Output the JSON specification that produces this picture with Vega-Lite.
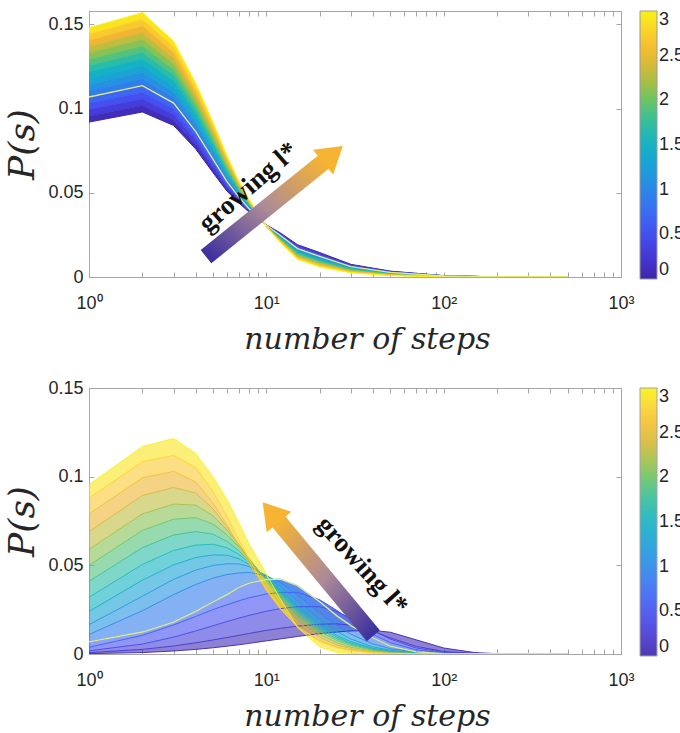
{
  "$schema": "https://vega.github.io/schema/vega-lite/v6.json",
  "background": "white",
  "padding": {"left": 4, "top": 10, "right": 0, "bottom": 0},
  "spacing": 23,
  "config": {
    "view": {"stroke": "#a6a6a6", "strokeWidth": 1},
    "axis": {
      "domainColor": "#a6a6a6", "tickColor": "#a6a6a6", "grid": false,
      "labelFont": "Liberation Sans", "labelFontSize": 18, "labelColor": "#262626",
      "titleFont": "DejaVu Serif", "titleFontStyle": "italic", "titleFontWeight": "normal", "titleColor": "#262626",
      "tickSize": -5, "labelFlush": false, "labelOverlap": false
    },
    "legend": {
      "title": null, "orient": "right", "offset": 18, "padding": 0,
      "gradientLength": 268, "gradientThickness": 17,
      "gradientStrokeColor": "#9a9a9a", "gradientStrokeWidth": 1,
      "labelFont": "Liberation Sans", "labelFontSize": 18, "labelColor": "#262626",
      "labelOffset": 5, "labelBaseline": "middle", "labelOverlap": false
    }
  },
  "resolve": {"scale": {"color": "independent"}},
  "datasets": {
    "top": [
      {"l":0,"s":1,"y":0.092},{"l":0,"s":2,"y":0.098},{"l":0,"s":3,"y":0.09},{"l":0,"s":4,"y":0.076},{"l":0,"s":5,"y":0.062},{"l":0,"s":6,"y":0.051},{"l":0,"s":7,"y":0.044},{"l":0,"s":8,"y":0.0385},{"l":0,"s":10,"y":0.031},{"l":0,"s":12,"y":0.0262},{"l":0,"s":15,"y":0.0192},{"l":0,"s":20,"y":0.0145},{"l":0,"s":30,"y":0.0075},{"l":0,"s":50,"y":0.0035},{"l":0,"s":100,"y":0.0008},{"l":0,"s":200,"y":0.0001},{"l":0,"s":500,"y":0},
      {"l":0.2,"s":1,"y":0.0957},{"l":0.2,"s":2,"y":0.1019},{"l":0.2,"s":3,"y":0.0933},{"l":0.2,"s":4,"y":0.0786},{"l":0.2,"s":5,"y":0.064},{"l":0.2,"s":6,"y":0.0524},{"l":0.2,"s":7,"y":0.0449},{"l":0.2,"s":8,"y":0.039},{"l":0.2,"s":10,"y":0.0309},{"l":0.2,"s":12,"y":0.0258},{"l":0.2,"s":15,"y":0.0186},{"l":0.2,"s":20,"y":0.0139},{"l":0.2,"s":30,"y":0.0072},{"l":0.2,"s":50,"y":0.0033},{"l":0.2,"s":100,"y":0.0008},{"l":0.2,"s":200,"y":0.0001},{"l":0.2,"s":500,"y":0},
      {"l":0.4,"s":1,"y":0.0995},{"l":0.4,"s":2,"y":0.1059},{"l":0.4,"s":3,"y":0.0967},{"l":0.4,"s":4,"y":0.0812},{"l":0.4,"s":5,"y":0.066},{"l":0.4,"s":6,"y":0.0538},{"l":0.4,"s":7,"y":0.0457},{"l":0.4,"s":8,"y":0.0395},{"l":0.4,"s":10,"y":0.0308},{"l":0.4,"s":12,"y":0.0254},{"l":0.4,"s":15,"y":0.018},{"l":0.4,"s":20,"y":0.0134},{"l":0.4,"s":30,"y":0.0068},{"l":0.4,"s":50,"y":0.0031},{"l":0.4,"s":100,"y":0.0007},{"l":0.4,"s":200,"y":0.0001},{"l":0.4,"s":500,"y":0},
      {"l":0.6,"s":1,"y":0.1032},{"l":0.6,"s":2,"y":0.1098},{"l":0.6,"s":3,"y":0.1},{"l":0.6,"s":4,"y":0.0838},{"l":0.6,"s":5,"y":0.068},{"l":0.6,"s":6,"y":0.0552},{"l":0.6,"s":7,"y":0.0466},{"l":0.6,"s":8,"y":0.04},{"l":0.6,"s":10,"y":0.0308},{"l":0.6,"s":12,"y":0.0251},{"l":0.6,"s":15,"y":0.0175},{"l":0.6,"s":20,"y":0.0128},{"l":0.6,"s":30,"y":0.0065},{"l":0.6,"s":50,"y":0.003},{"l":0.6,"s":100,"y":0.0007},{"l":0.6,"s":200,"y":0.0001},{"l":0.6,"s":500,"y":0},
      {"l":0.8,"s":1,"y":0.1069},{"l":0.8,"s":2,"y":0.1137},{"l":0.8,"s":3,"y":0.1033},{"l":0.8,"s":4,"y":0.0864},{"l":0.8,"s":5,"y":0.07},{"l":0.8,"s":6,"y":0.0566},{"l":0.8,"s":7,"y":0.0475},{"l":0.8,"s":8,"y":0.0405},{"l":0.8,"s":10,"y":0.0307},{"l":0.8,"s":12,"y":0.0247},{"l":0.8,"s":15,"y":0.0169},{"l":0.8,"s":20,"y":0.0122},{"l":0.8,"s":30,"y":0.0062},{"l":0.8,"s":50,"y":0.0028},{"l":0.8,"s":100,"y":0.0006},{"l":0.8,"s":200,"y":0.0001},{"l":0.8,"s":500,"y":0},
      {"l":1,"s":1,"y":0.1107},{"l":1,"s":2,"y":0.1177},{"l":1,"s":3,"y":0.1067},{"l":1,"s":4,"y":0.089},{"l":1,"s":5,"y":0.072},{"l":1,"s":6,"y":0.058},{"l":1,"s":7,"y":0.0483},{"l":1,"s":8,"y":0.041},{"l":1,"s":10,"y":0.0306},{"l":1,"s":12,"y":0.0243},{"l":1,"s":15,"y":0.0163},{"l":1,"s":20,"y":0.0117},{"l":1,"s":30,"y":0.0058},{"l":1,"s":50,"y":0.0026},{"l":1,"s":100,"y":0.0006},{"l":1,"s":200,"y":0.0001},{"l":1,"s":500,"y":0},
      {"l":1.2,"s":1,"y":0.1144},{"l":1.2,"s":2,"y":0.1216},{"l":1.2,"s":3,"y":0.11},{"l":1.2,"s":4,"y":0.0916},{"l":1.2,"s":5,"y":0.074},{"l":1.2,"s":6,"y":0.0594},{"l":1.2,"s":7,"y":0.0492},{"l":1.2,"s":8,"y":0.0415},{"l":1.2,"s":10,"y":0.0305},{"l":1.2,"s":12,"y":0.0239},{"l":1.2,"s":15,"y":0.0157},{"l":1.2,"s":20,"y":0.0111},{"l":1.2,"s":30,"y":0.0055},{"l":1.2,"s":50,"y":0.0024},{"l":1.2,"s":100,"y":0.0005},{"l":1.2,"s":200,"y":0.0001},{"l":1.2,"s":500,"y":0},
      {"l":1.4,"s":1,"y":0.1181},{"l":1.4,"s":2,"y":0.1255},{"l":1.4,"s":3,"y":0.1133},{"l":1.4,"s":4,"y":0.0942},{"l":1.4,"s":5,"y":0.076},{"l":1.4,"s":6,"y":0.0608},{"l":1.4,"s":7,"y":0.0501},{"l":1.4,"s":8,"y":0.042},{"l":1.4,"s":10,"y":0.0304},{"l":1.4,"s":12,"y":0.0235},{"l":1.4,"s":15,"y":0.0151},{"l":1.4,"s":20,"y":0.0105},{"l":1.4,"s":30,"y":0.0052},{"l":1.4,"s":50,"y":0.0022},{"l":1.4,"s":100,"y":0.0005},{"l":1.4,"s":200,"y":0.0001},{"l":1.4,"s":500,"y":0},
      {"l":1.6,"s":1,"y":0.1219},{"l":1.6,"s":2,"y":0.1295},{"l":1.6,"s":3,"y":0.1167},{"l":1.6,"s":4,"y":0.0968},{"l":1.6,"s":5,"y":0.078},{"l":1.6,"s":6,"y":0.0622},{"l":1.6,"s":7,"y":0.0509},{"l":1.6,"s":8,"y":0.0425},{"l":1.6,"s":10,"y":0.0303},{"l":1.6,"s":12,"y":0.0232},{"l":1.6,"s":15,"y":0.0145},{"l":1.6,"s":20,"y":0.01},{"l":1.6,"s":30,"y":0.0048},{"l":1.6,"s":50,"y":0.0021},{"l":1.6,"s":100,"y":0.0004},{"l":1.6,"s":200,"y":0},{"l":1.6,"s":500,"y":0},
      {"l":1.8,"s":1,"y":0.1256},{"l":1.8,"s":2,"y":0.1334},{"l":1.8,"s":3,"y":0.12},{"l":1.8,"s":4,"y":0.0994},{"l":1.8,"s":5,"y":0.08},{"l":1.8,"s":6,"y":0.0636},{"l":1.8,"s":7,"y":0.0518},{"l":1.8,"s":8,"y":0.043},{"l":1.8,"s":10,"y":0.0302},{"l":1.8,"s":12,"y":0.0228},{"l":1.8,"s":15,"y":0.014},{"l":1.8,"s":20,"y":0.0094},{"l":1.8,"s":30,"y":0.0045},{"l":1.8,"s":50,"y":0.0019},{"l":1.8,"s":100,"y":0.0004},{"l":1.8,"s":200,"y":0},{"l":1.8,"s":500,"y":0},
      {"l":2,"s":1,"y":0.1293},{"l":2,"s":2,"y":0.1373},{"l":2,"s":3,"y":0.1233},{"l":2,"s":4,"y":0.102},{"l":2,"s":5,"y":0.082},{"l":2,"s":6,"y":0.065},{"l":2,"s":7,"y":0.0527},{"l":2,"s":8,"y":0.0435},{"l":2,"s":10,"y":0.0302},{"l":2,"s":12,"y":0.0224},{"l":2,"s":15,"y":0.0134},{"l":2,"s":20,"y":0.0088},{"l":2,"s":30,"y":0.0042},{"l":2,"s":50,"y":0.0017},{"l":2,"s":100,"y":0.0003},{"l":2,"s":200,"y":0},{"l":2,"s":500,"y":0},
      {"l":2.2,"s":1,"y":0.1331},{"l":2.2,"s":2,"y":0.1413},{"l":2.2,"s":3,"y":0.1267},{"l":2.2,"s":4,"y":0.1046},{"l":2.2,"s":5,"y":0.084},{"l":2.2,"s":6,"y":0.0664},{"l":2.2,"s":7,"y":0.0535},{"l":2.2,"s":8,"y":0.044},{"l":2.2,"s":10,"y":0.0301},{"l":2.2,"s":12,"y":0.022},{"l":2.2,"s":15,"y":0.0128},{"l":2.2,"s":20,"y":0.0083},{"l":2.2,"s":30,"y":0.0038},{"l":2.2,"s":50,"y":0.0015},{"l":2.2,"s":100,"y":0.0003},{"l":2.2,"s":200,"y":0},{"l":2.2,"s":500,"y":0},
      {"l":2.4,"s":1,"y":0.1368},{"l":2.4,"s":2,"y":0.1452},{"l":2.4,"s":3,"y":0.13},{"l":2.4,"s":4,"y":0.1072},{"l":2.4,"s":5,"y":0.086},{"l":2.4,"s":6,"y":0.0678},{"l":2.4,"s":7,"y":0.0544},{"l":2.4,"s":8,"y":0.0445},{"l":2.4,"s":10,"y":0.03},{"l":2.4,"s":12,"y":0.0216},{"l":2.4,"s":15,"y":0.0122},{"l":2.4,"s":20,"y":0.0077},{"l":2.4,"s":30,"y":0.0035},{"l":2.4,"s":50,"y":0.0013},{"l":2.4,"s":100,"y":0.0002},{"l":2.4,"s":200,"y":0},{"l":2.4,"s":500,"y":0},
      {"l":2.6,"s":1,"y":0.1405},{"l":2.6,"s":2,"y":0.1491},{"l":2.6,"s":3,"y":0.1333},{"l":2.6,"s":4,"y":0.1098},{"l":2.6,"s":5,"y":0.088},{"l":2.6,"s":6,"y":0.0692},{"l":2.6,"s":7,"y":0.0553},{"l":2.6,"s":8,"y":0.045},{"l":2.6,"s":10,"y":0.0299},{"l":2.6,"s":12,"y":0.0213},{"l":2.6,"s":15,"y":0.0116},{"l":2.6,"s":20,"y":0.0071},{"l":2.6,"s":30,"y":0.0032},{"l":2.6,"s":50,"y":0.0012},{"l":2.6,"s":100,"y":0.0002},{"l":2.6,"s":200,"y":0},{"l":2.6,"s":500,"y":0},
      {"l":2.8,"s":1,"y":0.1443},{"l":2.8,"s":2,"y":0.1531},{"l":2.8,"s":3,"y":0.1367},{"l":2.8,"s":4,"y":0.1124},{"l":2.8,"s":5,"y":0.09},{"l":2.8,"s":6,"y":0.0706},{"l":2.8,"s":7,"y":0.0561},{"l":2.8,"s":8,"y":0.0455},{"l":2.8,"s":10,"y":0.0299},{"l":2.8,"s":12,"y":0.0209},{"l":2.8,"s":15,"y":0.0111},{"l":2.8,"s":20,"y":0.0066},{"l":2.8,"s":30,"y":0.0028},{"l":2.8,"s":50,"y":0.001},{"l":2.8,"s":100,"y":0.0001},{"l":2.8,"s":200,"y":0},{"l":2.8,"s":500,"y":0},
      {"l":3,"s":1,"y":0.148},{"l":3,"s":2,"y":0.157},{"l":3,"s":3,"y":0.14},{"l":3,"s":4,"y":0.115},{"l":3,"s":5,"y":0.092},{"l":3,"s":6,"y":0.072},{"l":3,"s":7,"y":0.057},{"l":3,"s":8,"y":0.046},{"l":3,"s":10,"y":0.0298},{"l":3,"s":12,"y":0.0205},{"l":3,"s":15,"y":0.0105},{"l":3,"s":20,"y":0.006},{"l":3,"s":30,"y":0.0025},{"l":3,"s":50,"y":0.0008},{"l":3,"s":100,"y":0.0001},{"l":3,"s":200,"y":0},{"l":3,"s":500,"y":0}
    ],
    "bot": [
      {"l":0,"s":1,"y":0.0002},{"l":0,"s":2,"y":0.0008},{"l":0,"s":3,"y":0.0017},{"l":0,"s":4,"y":0.0026},{"l":0,"s":5,"y":0.0035},{"l":0,"s":6,"y":0.0044},{"l":0,"s":7,"y":0.0052},{"l":0,"s":8,"y":0.006},{"l":0,"s":10,"y":0.0074},{"l":0,"s":12,"y":0.0085},{"l":0,"s":15,"y":0.0099},{"l":0,"s":20,"y":0.0115},{"l":0,"s":25,"y":0.0124},{"l":0,"s":30,"y":0.013},{"l":0,"s":40,"y":0.0133},{"l":0,"s":50,"y":0.0123},{"l":0,"s":70,"y":0.008},{"l":0,"s":100,"y":0.0034},{"l":0,"s":150,"y":0.0008},{"l":0,"s":200,"y":0.0002},{"l":0,"s":500,"y":0},
      {"l":0.2,"s":1,"y":0.0008},{"l":0.2,"s":2,"y":0.0026},{"l":0.2,"s":3,"y":0.0045},{"l":0.2,"s":4,"y":0.0063},{"l":0.2,"s":5,"y":0.0079},{"l":0.2,"s":6,"y":0.0093},{"l":0.2,"s":7,"y":0.0105},{"l":0.2,"s":8,"y":0.0116},{"l":0.2,"s":10,"y":0.0133},{"l":0.2,"s":12,"y":0.0145},{"l":0.2,"s":15,"y":0.0157},{"l":0.2,"s":20,"y":0.0168},{"l":0.2,"s":25,"y":0.017},{"l":0.2,"s":30,"y":0.0163},{"l":0.2,"s":40,"y":0.0128},{"l":0.2,"s":50,"y":0.0091},{"l":0.2,"s":70,"y":0.0043},{"l":0.2,"s":100,"y":0.0014},{"l":0.2,"s":150,"y":0.0003},{"l":0.2,"s":200,"y":0.0001},{"l":0.2,"s":500,"y":0},
      {"l":0.4,"s":1,"y":0.0018},{"l":0.4,"s":2,"y":0.0056},{"l":0.4,"s":3,"y":0.0095},{"l":0.4,"s":4,"y":0.013},{"l":0.4,"s":5,"y":0.0159},{"l":0.4,"s":6,"y":0.0183},{"l":0.4,"s":7,"y":0.0202},{"l":0.4,"s":8,"y":0.0218},{"l":0.4,"s":10,"y":0.0241},{"l":0.4,"s":12,"y":0.0256},{"l":0.4,"s":15,"y":0.0267},{"l":0.4,"s":20,"y":0.0267},{"l":0.4,"s":25,"y":0.0239},{"l":0.4,"s":30,"y":0.0201},{"l":0.4,"s":40,"y":0.0132},{"l":0.4,"s":50,"y":0.0084},{"l":0.4,"s":70,"y":0.0034},{"l":0.4,"s":100,"y":0.001},{"l":0.4,"s":150,"y":0.0002},{"l":0.4,"s":200,"y":0},{"l":0.4,"s":500,"y":0},
      {"l":0.6,"s":1,"y":0.0038},{"l":0.6,"s":2,"y":0.0105},{"l":0.6,"s":3,"y":0.0164},{"l":0.6,"s":4,"y":0.0212},{"l":0.6,"s":5,"y":0.025},{"l":0.6,"s":6,"y":0.0278},{"l":0.6,"s":7,"y":0.03},{"l":0.6,"s":8,"y":0.0317},{"l":0.6,"s":10,"y":0.0338},{"l":0.6,"s":12,"y":0.0347},{"l":0.6,"s":15,"y":0.0348},{"l":0.6,"s":20,"y":0.0306},{"l":0.6,"s":25,"y":0.0246},{"l":0.6,"s":30,"y":0.019},{"l":0.6,"s":40,"y":0.011},{"l":0.6,"s":50,"y":0.0064},{"l":0.6,"s":70,"y":0.0023},{"l":0.6,"s":100,"y":0.0006},{"l":0.6,"s":150,"y":0.0001},{"l":0.6,"s":200,"y":0},{"l":0.6,"s":500,"y":0},
      {"l":0.8,"s":1,"y":0.0068},{"l":0.8,"s":2,"y":0.0124},{"l":0.8,"s":3,"y":0.018},{"l":0.8,"s":4,"y":0.024},{"l":0.8,"s":5,"y":0.0293},{"l":0.8,"s":6,"y":0.0335},{"l":0.8,"s":7,"y":0.0375},{"l":0.8,"s":8,"y":0.04},{"l":0.8,"s":10,"y":0.042},{"l":0.8,"s":12,"y":0.0422},{"l":0.8,"s":15,"y":0.0385},{"l":0.8,"s":20,"y":0.0295},{"l":0.8,"s":25,"y":0.0215},{"l":0.8,"s":30,"y":0.016},{"l":0.8,"s":40,"y":0.009},{"l":0.8,"s":50,"y":0.0045},{"l":0.8,"s":70,"y":0.0012},{"l":0.8,"s":100,"y":0.0002},{"l":0.8,"s":150,"y":0},{"l":0.8,"s":200,"y":0},{"l":0.8,"s":500,"y":0},
      {"l":1,"s":1,"y":0.011},{"l":1,"s":2,"y":0.0244},{"l":1,"s":3,"y":0.0335},{"l":1,"s":4,"y":0.0392},{"l":1,"s":5,"y":0.0428},{"l":1,"s":6,"y":0.0448},{"l":1,"s":7,"y":0.0457},{"l":1,"s":8,"y":0.046},{"l":1,"s":10,"y":0.0442},{"l":1,"s":12,"y":0.0402},{"l":1,"s":15,"y":0.0333},{"l":1,"s":20,"y":0.0232},{"l":1,"s":25,"y":0.0159},{"l":1,"s":30,"y":0.0111},{"l":1,"s":40,"y":0.0056},{"l":1,"s":50,"y":0.003},{"l":1,"s":70,"y":0.001},{"l":1,"s":100,"y":0.0003},{"l":1,"s":150,"y":0},{"l":1,"s":200,"y":0},{"l":1,"s":500,"y":0},
      {"l":1.2,"s":1,"y":0.0165},{"l":1.2,"s":2,"y":0.0326},{"l":1.2,"s":3,"y":0.0421},{"l":1.2,"s":4,"y":0.0473},{"l":1.2,"s":5,"y":0.0499},{"l":1.2,"s":6,"y":0.0509},{"l":1.2,"s":7,"y":0.0508},{"l":1.2,"s":8,"y":0.0493},{"l":1.2,"s":10,"y":0.0442},{"l":1.2,"s":12,"y":0.0382},{"l":1.2,"s":15,"y":0.0298},{"l":1.2,"s":20,"y":0.0193},{"l":1.2,"s":25,"y":0.0126},{"l":1.2,"s":30,"y":0.0084},{"l":1.2,"s":40,"y":0.004},{"l":1.2,"s":50,"y":0.0021},{"l":1.2,"s":70,"y":0.0007},{"l":1.2,"s":100,"y":0.0002},{"l":1.2,"s":150,"y":0},{"l":1.2,"s":200,"y":0},{"l":1.2,"s":500,"y":0},
      {"l":1.4,"s":1,"y":0.024},{"l":1.4,"s":2,"y":0.0416},{"l":1.4,"s":3,"y":0.0503},{"l":1.4,"s":4,"y":0.0544},{"l":1.4,"s":5,"y":0.0559},{"l":1.4,"s":6,"y":0.0557},{"l":1.4,"s":7,"y":0.0537},{"l":1.4,"s":8,"y":0.0505},{"l":1.4,"s":10,"y":0.0431},{"l":1.4,"s":12,"y":0.0359},{"l":1.4,"s":15,"y":0.0269},{"l":1.4,"s":20,"y":0.0166},{"l":1.4,"s":25,"y":0.0105},{"l":1.4,"s":30,"y":0.0069},{"l":1.4,"s":40,"y":0.0032},{"l":1.4,"s":50,"y":0.0016},{"l":1.4,"s":70,"y":0.0005},{"l":1.4,"s":100,"y":0.0001},{"l":1.4,"s":150,"y":0},{"l":1.4,"s":200,"y":0},{"l":1.4,"s":500,"y":0},
      {"l":1.6,"s":1,"y":0.032},{"l":1.6,"s":2,"y":0.0505},{"l":1.6,"s":3,"y":0.0584},{"l":1.6,"s":4,"y":0.0614},{"l":1.6,"s":5,"y":0.0619},{"l":1.6,"s":6,"y":0.0599},{"l":1.6,"s":7,"y":0.0562},{"l":1.6,"s":8,"y":0.0518},{"l":1.6,"s":10,"y":0.0428},{"l":1.6,"s":12,"y":0.0348},{"l":1.6,"s":15,"y":0.0253},{"l":1.6,"s":20,"y":0.0152},{"l":1.6,"s":25,"y":0.0095},{"l":1.6,"s":30,"y":0.0061},{"l":1.6,"s":40,"y":0.0028},{"l":1.6,"s":50,"y":0.0014},{"l":1.6,"s":70,"y":0.0004},{"l":1.6,"s":100,"y":0.0001},{"l":1.6,"s":150,"y":0},{"l":1.6,"s":200,"y":0},{"l":1.6,"s":500,"y":0},
      {"l":1.8,"s":1,"y":0.041},{"l":1.8,"s":2,"y":0.06},{"l":1.8,"s":3,"y":0.0671},{"l":1.8,"s":4,"y":0.069},{"l":1.8,"s":5,"y":0.0676},{"l":1.8,"s":6,"y":0.0635},{"l":1.8,"s":7,"y":0.0582},{"l":1.8,"s":8,"y":0.0526},{"l":1.8,"s":10,"y":0.0422},{"l":1.8,"s":12,"y":0.0336},{"l":1.8,"s":15,"y":0.0239},{"l":1.8,"s":20,"y":0.014},{"l":1.8,"s":25,"y":0.0086},{"l":1.8,"s":30,"y":0.0055},{"l":1.8,"s":40,"y":0.0025},{"l":1.8,"s":50,"y":0.0013},{"l":1.8,"s":70,"y":0.0004},{"l":1.8,"s":100,"y":0.0001},{"l":1.8,"s":150,"y":0},{"l":1.8,"s":200,"y":0},{"l":1.8,"s":500,"y":0},
      {"l":2,"s":1,"y":0.05},{"l":2,"s":2,"y":0.0697},{"l":2,"s":3,"y":0.076},{"l":2,"s":4,"y":0.0769},{"l":2,"s":5,"y":0.0733},{"l":2,"s":6,"y":0.0672},{"l":2,"s":7,"y":0.0604},{"l":2,"s":8,"y":0.0537},{"l":2,"s":10,"y":0.0418},{"l":2,"s":12,"y":0.0325},{"l":2,"s":15,"y":0.0225},{"l":2,"s":20,"y":0.0127},{"l":2,"s":25,"y":0.0076},{"l":2,"s":30,"y":0.0048},{"l":2,"s":40,"y":0.0021},{"l":2,"s":50,"y":0.001},{"l":2,"s":70,"y":0.0003},{"l":2,"s":100,"y":0.0001},{"l":2,"s":150,"y":0},{"l":2,"s":200,"y":0},{"l":2,"s":500,"y":0},
      {"l":2.2,"s":1,"y":0.059},{"l":2.2,"s":2,"y":0.079},{"l":2.2,"s":3,"y":0.0845},{"l":2.2,"s":4,"y":0.084},{"l":2.2,"s":5,"y":0.078},{"l":2.2,"s":6,"y":0.0699},{"l":2.2,"s":7,"y":0.0616},{"l":2.2,"s":8,"y":0.0537},{"l":2.2,"s":10,"y":0.0406},{"l":2.2,"s":12,"y":0.0307},{"l":2.2,"s":15,"y":0.0205},{"l":2.2,"s":20,"y":0.0111},{"l":2.2,"s":25,"y":0.0063},{"l":2.2,"s":30,"y":0.0038},{"l":2.2,"s":40,"y":0.0016},{"l":2.2,"s":50,"y":0.0007},{"l":2.2,"s":70,"y":0.0002},{"l":2.2,"s":100,"y":0},{"l":2.2,"s":150,"y":0},{"l":2.2,"s":200,"y":0},{"l":2.2,"s":500,"y":0},
      {"l":2.4,"s":1,"y":0.069},{"l":2.4,"s":2,"y":0.0894},{"l":2.4,"s":3,"y":0.0939},{"l":2.4,"s":4,"y":0.0908},{"l":2.4,"s":5,"y":0.0819},{"l":2.4,"s":6,"y":0.0716},{"l":2.4,"s":7,"y":0.0617},{"l":2.4,"s":8,"y":0.0527},{"l":2.4,"s":10,"y":0.0384},{"l":2.4,"s":12,"y":0.0282},{"l":2.4,"s":15,"y":0.0182},{"l":2.4,"s":20,"y":0.0093},{"l":2.4,"s":25,"y":0.0051},{"l":2.4,"s":30,"y":0.003},{"l":2.4,"s":40,"y":0.0012},{"l":2.4,"s":50,"y":0.0005},{"l":2.4,"s":70,"y":0.0001},{"l":2.4,"s":100,"y":0},{"l":2.4,"s":150,"y":0},{"l":2.4,"s":200,"y":0},{"l":2.4,"s":500,"y":0},
      {"l":2.6,"s":1,"y":0.079},{"l":2.6,"s":2,"y":0.0993},{"l":2.6,"s":3,"y":0.103},{"l":2.6,"s":4,"y":0.097},{"l":2.6,"s":5,"y":0.0852},{"l":2.6,"s":6,"y":0.0726},{"l":2.6,"s":7,"y":0.0611},{"l":2.6,"s":8,"y":0.0511},{"l":2.6,"s":10,"y":0.0358},{"l":2.6,"s":12,"y":0.0254},{"l":2.6,"s":15,"y":0.0156},{"l":2.6,"s":20,"y":0.0075},{"l":2.6,"s":25,"y":0.0039},{"l":2.6,"s":30,"y":0.0022},{"l":2.6,"s":40,"y":0.0008},{"l":2.6,"s":50,"y":0.0003},{"l":2.6,"s":70,"y":0.0001},{"l":2.6,"s":100,"y":0},{"l":2.6,"s":150,"y":0},{"l":2.6,"s":200,"y":0},{"l":2.6,"s":500,"y":0},
      {"l":2.8,"s":1,"y":0.088},{"l":2.8,"s":2,"y":0.1084},{"l":2.8,"s":3,"y":0.112},{"l":2.8,"s":4,"y":0.1051},{"l":2.8,"s":5,"y":0.0916},{"l":2.8,"s":6,"y":0.0774},{"l":2.8,"s":7,"y":0.0644},{"l":2.8,"s":8,"y":0.0534},{"l":2.8,"s":10,"y":0.0367},{"l":2.8,"s":12,"y":0.0255},{"l":2.8,"s":15,"y":0.0152},{"l":2.8,"s":20,"y":0.007},{"l":2.8,"s":25,"y":0.0035},{"l":2.8,"s":30,"y":0.0019},{"l":2.8,"s":40,"y":0.0006},{"l":2.8,"s":50,"y":0.0003},{"l":2.8,"s":70,"y":0},{"l":2.8,"s":100,"y":0},{"l":2.8,"s":150,"y":0},{"l":2.8,"s":200,"y":0},{"l":2.8,"s":500,"y":0},
      {"l":3,"s":1,"y":0.0955},{"l":3,"s":2,"y":0.117},{"l":3,"s":3,"y":0.1215},{"l":3,"s":4,"y":0.113},{"l":3,"s":5,"y":0.1},{"l":3,"s":6,"y":0.087},{"l":3,"s":7,"y":0.074},{"l":3,"s":8,"y":0.062},{"l":3,"s":10,"y":0.045},{"l":3,"s":12,"y":0.031},{"l":3,"s":15,"y":0.015},{"l":3,"s":20,"y":0.004},{"l":3,"s":25,"y":0.001},{"l":3,"s":30,"y":0.0003},{"l":3,"s":40,"y":0.0001},{"l":3,"s":50,"y":0},{"l":3,"s":70,"y":0},{"l":3,"s":100,"y":0},{"l":3,"s":150,"y":0},{"l":3,"s":200,"y":0},{"l":3,"s":500,"y":0}
    ]
  },
  "vconcat": [
    {
      "width": 532, "height": 266,
      "data": {"name": "top"},
      "resolve": {"scale": {"color": "independent"}, "axis": {"x": "independent", "y": "independent"}},
      "layer": [
        {
          "transform": [
            {"window": [{"op": "lead", "field": "y", "as": "y2"}], "groupby": ["s"], "sort": [{"field": "l", "order": "ascending"}]},
            {"filter": "datum.y2 != null"}
          ],
          "mark": {"type": "area", "clip": true, "opacity": 1},
          "encoding": {
            "x": {"field": "s", "type": "quantitative", "scale": {"type": "log", "domain": [1, 1000], "nice": false},
                  "axis": {"orient": "bottom", "values": [1,2,3,4,5,6,7,8,9,10,20,30,40,50,60,70,80,90,100,200,300,400,500,600,700,800,900,1000],
                           "labelExpr": "datum.value === 1 ? '10⁰' : datum.value === 10 ? '10¹' : datum.value === 100 ? '10²' : datum.value === 1000 ? '10³' : ''",
                           "labelPadding": 22, "title": "number of steps", "titleFontSize": 30, "titlePadding": 12, "titleX": 278}},
            "y": {"field": "y", "type": "quantitative", "stack": null, "scale": {"domain": [0, 0.158], "nice": false, "zero": false},
                  "axis": {"orient": "left", "values": [0, 0.05, 0.1, 0.15], "format": ".2~g", "labelPadding": 11, "title": "P(s)", "titleFontSize": 36, "titlePadding": 6}},
            "y2": {"field": "y2"},
            "detail": {"field": "l", "type": "nominal"},
            "color": {"field": "l", "type": "quantitative", "legend": null,
                      "scale": {"domain": [-0.1, 2.9], "interpolate": "rgb", "range": ["#3e26a8","#4538d6","#4450f0","#3a6cf5","#2a88e6","#1aa0d8","#13b3c3","#30bea0","#6cc463","#b2bf3f","#efb533","#fcce2e","#f8f313"]}}
          }
        },
        {
          "mark": {"type": "line", "clip": true, "strokeWidth": 1},
          "encoding": {
            "x": {"field": "s", "type": "quantitative", "axis": {"orient": "top", "values": [1,2,3,4,5,6,7,8,9,10,20,30,40,50,60,70,80,90,100,200,300,400,500,600,700,800,900,1000], "labels": false, "title": null}},
            "y": {"field": "y", "type": "quantitative", "axis": {"orient": "right", "values": [0, 0.05, 0.1, 0.15], "labels": false, "title": null}},
            "detail": {"field": "l", "type": "nominal"},
            "color": {"field": "l", "type": "quantitative",
                      "scale": {"domain": [0, 3], "interpolate": "rgb", "range": ["#3e26a8","#4538d6","#4450f0","#3a6cf5","#2a88e6","#1aa0d8","#13b3c3","#30bea0","#6cc463","#b2bf3f","#efb533","#fcce2e","#f8f313"]},
                      "legend": {"values": [0, 0.5, 1, 1.5, 2, 2.5, 3], "format": ".2~g"}}
          }
        },
        {
          "transform": [{"filter": "datum.l == 0.8"}],
          "mark": {"type": "line", "clip": true, "strokeWidth": 1.3, "color": "#e2ec84"},
          "encoding": {
            "x": {"field": "s", "type": "quantitative", "axis": null},
            "y": {"field": "y", "type": "quantitative", "axis": null}
          }
        },
        {
          "data": {"values": [{"s": 4.57, "y": 0.0121}, {"s": 21.4, "y": 0.069}]},
          "mark": {"type": "line", "strokeWidth": 17, "strokeCap": "butt",
                   "stroke": {"gradient": "linear", "x1": 0, "y1": 1, "x2": 1, "y2": 0,
                              "stops": [{"offset": 0, "color": "#3a2e9f"}, {"offset": 0.5, "color": "#ac8a98"}, {"offset": 1, "color": "#f6b432"}]}},
          "encoding": {
            "x": {"field": "s", "type": "quantitative", "axis": null},
            "y": {"field": "y", "type": "quantitative", "axis": null}
          }
        },
        {
          "data": {"values": [{"s": 23.0, "y": 0.0718}]},
          "mark": {"type": "point", "shape": "M0,-1L1,0.6L-1,0.6Z", "size": 1024, "angle": 50.6, "filled": true, "color": "#f6b432", "opacity": 1, "strokeWidth": 0},
          "encoding": {
            "x": {"field": "s", "type": "quantitative", "axis": null},
            "y": {"field": "y", "type": "quantitative", "axis": null}
          }
        },
        {
          "data": {"values": [{"s": 7.93, "y": 0.0533, "t": "growing l*"}]},
          "mark": {"type": "text", "angle": -41, "font": "Liberation Serif", "fontWeight": "bold", "fontSize": 27, "color": "#111111", "align": "center", "baseline": "middle"},
          "encoding": {
            "x": {"field": "s", "type": "quantitative", "axis": null},
            "y": {"field": "y", "type": "quantitative", "axis": null},
            "text": {"field": "t"}
          }
        }
      ]
    },
    {
      "width": 532, "height": 266,
      "data": {"name": "bot"},
      "resolve": {"scale": {"color": "independent"}, "axis": {"x": "independent", "y": "independent"}},
      "layer": [
        {
          "transform": [
            {"window": [{"op": "lead", "field": "y", "as": "y2"}], "groupby": ["s"], "sort": [{"field": "l", "order": "ascending"}]},
            {"filter": "datum.y2 != null"}
          ],
          "mark": {"type": "area", "clip": true, "opacity": 0.6},
          "encoding": {
            "x": {"field": "s", "type": "quantitative", "scale": {"type": "log", "domain": [1, 1000], "nice": false},
                  "axis": {"orient": "bottom", "values": [1,2,3,4,5,6,7,8,9,10,20,30,40,50,60,70,80,90,100,200,300,400,500,600,700,800,900,1000],
                           "labelExpr": "datum.value === 1 ? '10⁰' : datum.value === 10 ? '10¹' : datum.value === 100 ? '10²' : datum.value === 1000 ? '10³' : ''",
                           "labelPadding": 22, "title": "number of steps", "titleFontSize": 30, "titlePadding": 12, "titleX": 278}},
            "y": {"field": "y", "type": "quantitative", "stack": null, "scale": {"domain": [0, 0.15], "nice": false, "zero": false},
                  "axis": {"orient": "left", "values": [0, 0.05, 0.1, 0.15], "format": ".2~g", "labelPadding": 11, "title": "P(s)", "titleFontSize": 36, "titlePadding": 6}},
            "y2": {"field": "y2"},
            "detail": {"field": "l", "type": "nominal"},
            "color": {"field": "l", "type": "quantitative", "legend": null,
                      "scale": {"domain": [-0.1, 2.9], "interpolate": "rgb", "range": ["#3e26a8","#4538d6","#4450f0","#3a6cf5","#2a88e6","#1aa0d8","#13b3c3","#30bea0","#6cc463","#b2bf3f","#efb533","#fcce2e","#f8f313"]}}
          }
        },
        {
          "mark": {"type": "line", "clip": true, "strokeWidth": 1, "opacity": 0.9},
          "encoding": {
            "x": {"field": "s", "type": "quantitative", "axis": {"orient": "top", "values": [1,2,3,4,5,6,7,8,9,10,20,30,40,50,60,70,80,90,100,200,300,400,500,600,700,800,900,1000], "labels": false, "title": null}},
            "y": {"field": "y", "type": "quantitative", "axis": {"orient": "right", "values": [0, 0.05, 0.1, 0.15], "labels": false, "title": null}},
            "detail": {"field": "l", "type": "nominal"},
            "color": {"field": "l", "type": "quantitative",
                      "scale": {"domain": [0, 3], "interpolate": "rgb", "range": ["#3e26a8","#4538d6","#4450f0","#3a6cf5","#2a88e6","#1aa0d8","#13b3c3","#30bea0","#6cc463","#b2bf3f","#efb533","#fcce2e","#f8f313"]},
                      "legend": {"values": [0, 0.5, 1, 1.5, 2, 2.5, 3], "format": ".2~g"}}
          }
        },
        {
          "transform": [{"filter": "datum.l == 0.8"}],
          "mark": {"type": "line", "clip": true, "strokeWidth": 1.3, "color": "#e2ec84"},
          "encoding": {
            "x": {"field": "s", "type": "quantitative", "axis": null},
            "y": {"field": "y", "type": "quantitative", "axis": null}
          }
        },
        {
          "data": {"values": [{"s": 40.1, "y": 0.0103}, {"s": 11.64, "y": 0.0751}]},
          "mark": {"type": "line", "strokeWidth": 17, "strokeCap": "butt",
                   "stroke": {"gradient": "linear", "x1": 1, "y1": 1, "x2": 0, "y2": 0,
                              "stops": [{"offset": 0, "color": "#3a2e9f"}, {"offset": 0.5, "color": "#ac8a98"}, {"offset": 1, "color": "#f6b432"}]}},
          "encoding": {
            "x": {"field": "s", "type": "quantitative", "axis": null},
            "y": {"field": "y", "type": "quantitative", "axis": null}
          }
        },
        {
          "data": {"values": [{"s": 10.89, "y": 0.0786}]},
          "mark": {"type": "point", "shape": "M0,-1L1,0.6L-1,0.6Z", "size": 1024, "angle": -39.6, "filled": true, "color": "#f6b432", "opacity": 1, "strokeWidth": 0},
          "encoding": {
            "x": {"field": "s", "type": "quantitative", "axis": null},
            "y": {"field": "y", "type": "quantitative", "axis": null}
          }
        },
        {
          "data": {"values": [{"s": 34.6, "y": 0.0499, "t": "growing l*"}]},
          "mark": {"type": "text", "angle": 48, "font": "Liberation Serif", "fontWeight": "bold", "fontSize": 27, "color": "#111111", "align": "center", "baseline": "middle"},
          "encoding": {
            "x": {"field": "s", "type": "quantitative", "axis": null},
            "y": {"field": "y", "type": "quantitative", "axis": null},
            "text": {"field": "t"}
          }
        }
      ]
    }
  ]
}
